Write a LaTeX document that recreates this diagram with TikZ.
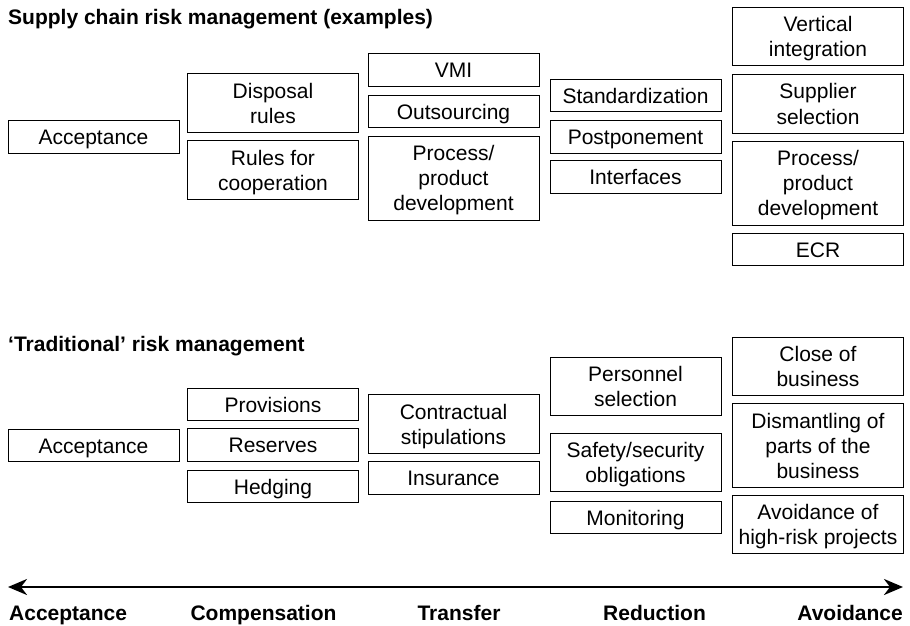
\documentclass[tikz,border=0pt]{standalone}
\usepackage{fontspec}
\setmainfont{Liberation Sans}
\usetikzlibrary{arrows.meta}
\newcommand\bs{\rule[-5pt]{0pt}{25pt}}
\tikzset{axtip/.tip={Stealth[length=19pt,width=16pt,inset=6pt]}}
\begin{document}
\begin{tikzpicture}[x=1pt,y=-1pt,
  bx/.style={draw, line width=1pt, minimum width=171pt, inner sep=0pt, align=center,
    font=\fontsize{21}{25}\selectfont},
  h1/.style={bx, minimum height=32.5pt},
  h2/.style={bx, minimum height=58.5pt},
  h3/.style={bx, minimum height=84pt},
  ttl/.style={font=\fontsize{21}{25}\selectfont\bfseries, inner sep=0pt},
  axlab/.style={font=\fontsize{21}{25}\selectfont\bfseries, inner sep=0pt, anchor=base}]
\useasboundingbox (0,0) rectangle (910,626);
% titles
\node[ttl, anchor=base west] (t1) at (8,25) {Supply chain risk management (examples)};
\node[ttl, anchor=base west] (t2) at (8,351) {`Traditional' risk management};
% top section
\node[h1] (a1) at (93.5,137) {\bs Acceptance\bs};
\node[h2] (c1a) at (273,103) {\bs Disposal\\rules\bs};
\node[h2] (c1b) at (273,170) {\bs Rules for\\cooperation\bs};
\node[h1] (t1a) at (453.5,70) {\bs VMI\bs};
\node[h1] (t1b) at (453.5,111.5) {\bs Outsourcing\bs};
\node[h3] (t1c) at (453.5,178) {\bs Process/\\product\\development\bs};
\node[h1] (r1a) at (635.5,95.5) {\bs Standardization\bs};
\node[h1] (r1b) at (635.5,137) {\bs Postponement\bs};
\node[h1] (r1c) at (635.5,177) {\bs Interfaces\bs};
\node[h2] (v1a) at (818,36.5) {\bs Vertical\\integration\bs};
\node[h2] (v1b) at (818,104) {\bs Supplier\\selection\bs};
\node[h3] (v1c) at (818,183) {\bs Process/\\product\\development\bs};
\node[h1] (v1d) at (818,249.5) {\bs ECR\bs};
% bottom section
\node[h1] (a2) at (93.5,445.5) {\bs Acceptance\bs};
\node[h1] (c2a) at (273,404.5) {\bs Provisions\bs};
\node[h1] (c2b) at (273,445) {\bs Reserves\bs};
\node[h1] (c2c) at (273,486.5) {\bs Hedging\bs};
\node[h2] (t2a) at (453.5,424) {\bs Contractual\\stipulations\bs};
\node[h1] (t2b) at (453.5,478) {\bs Insurance\bs};
\node[h2] (r2a) at (635.5,386.5) {\bs Personnel\\selection\bs};
\node[h2] (r2b) at (635.5,462.5) {\bs Safety/security\\obligations\bs};
\node[h1] (r2c) at (635.5,517.5) {\bs Monitoring\bs};
\node[h2] (v2a) at (818,366.5) {\bs Close of\\business\bs};
\node[h3] (v2b) at (818,445.5) {\bs Dismantling of\\parts of the\\business\bs};
\node[h2] (v2c) at (818,524.5) {\bs Avoidance of\\high-risk projects\bs};
% axis
\coordinate (L) at (8,587);
\coordinate (R) at (903,587);
\draw[line width=2.7pt, axtip-axtip] (L) -- (R);
\node[axlab, anchor=base west] (l1) at (9,620) {Acceptance};
\node[axlab] (l2) at (263.5,620) {Compensation};
\node[axlab] (l3) at (459,620) {Transfer};
\node[axlab] (l4) at (654.5,620) {Reduction};
\node[axlab, anchor=base east] (l5) at (903,620) {Avoidance};
\end{tikzpicture}
\end{document}
